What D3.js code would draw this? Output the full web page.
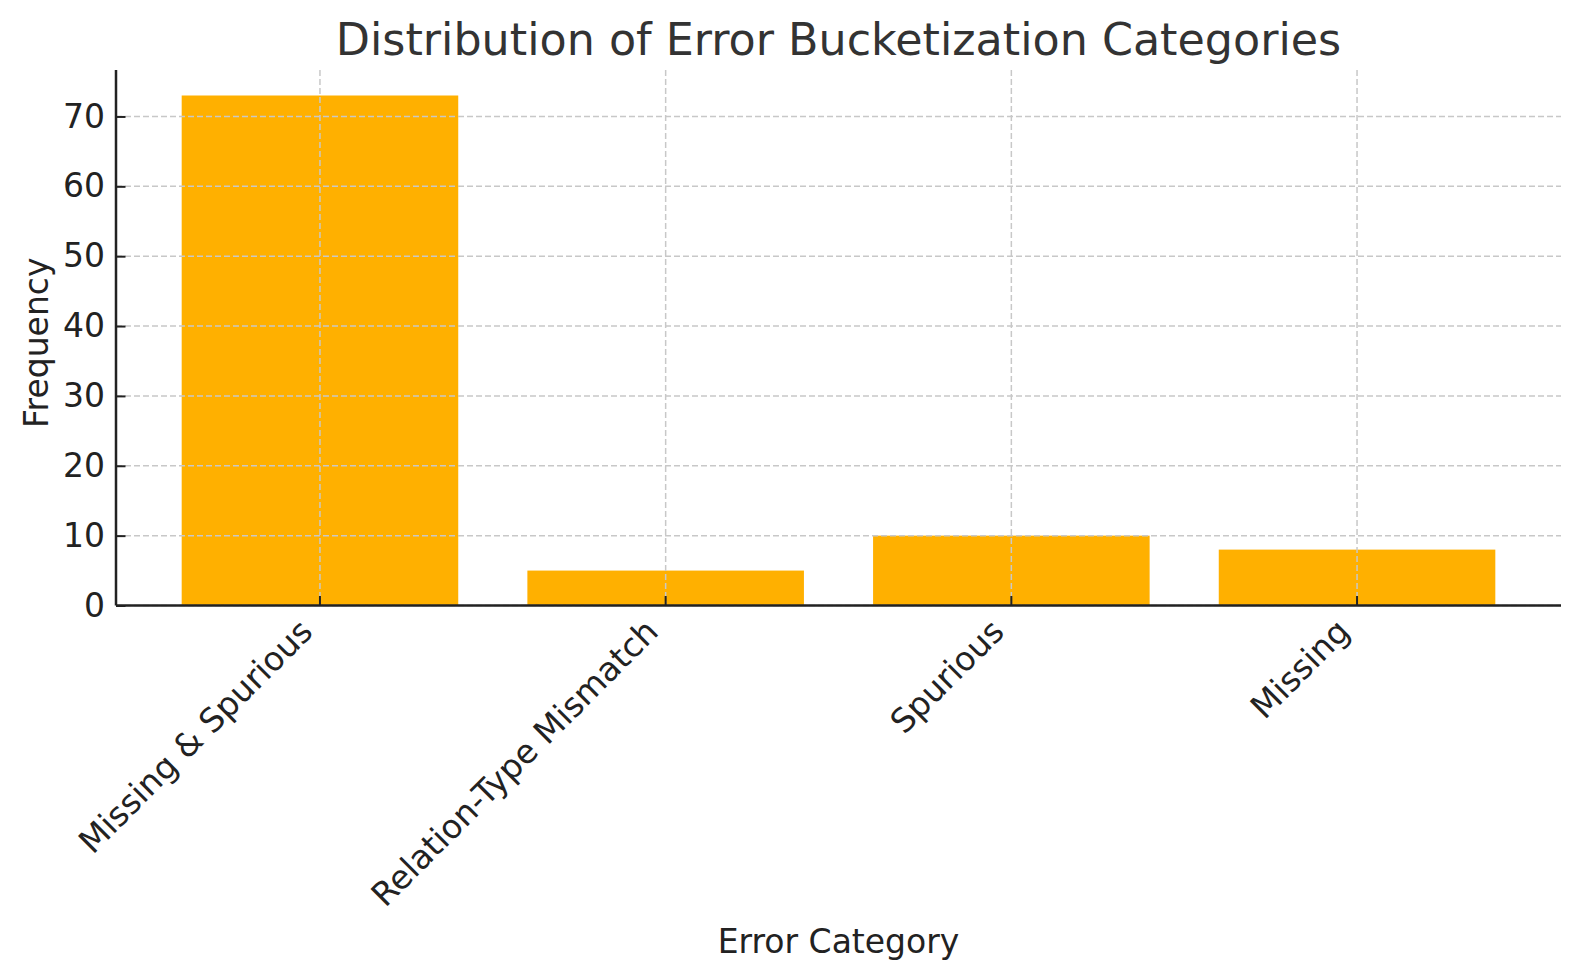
<!DOCTYPE html>
<html>
<head>
<meta charset="utf-8">
<script src="https://cdn.jsdelivr.net/npm/d3@7"></script>
<style>
  body { margin: 0; background: #fff; }
  svg { font-family: "DejaVu Sans", sans-serif; }
</style>
</head>
<body>
<div id="chart"></div>
<script>
    // error bucket categories
    let categories = ['Missing & Spurious', 'Relation-Type Mismatch', 'Spurious', 'Missing'];
    let frequency = [73, 5, 10, 8];
    let yTicks = [0, 10, 20, 30, 40, 50, 60, 70];

    let svgAttr = {width: 1580, height: 980};
    let marge = {top: 70, bottom: 374.5, left: 116, right: 19};
    let innerW = svgAttr.width - marge.left - marge.right;
    let innerH = svgAttr.height - marge.top - marge.bottom;

    let svg = d3.select('#chart').append('svg').attr('width', svgAttr.width).attr('height', svgAttr.height);
    let g = svg.append('g').attr('transform', 'translate(' + marge.left + ',' + marge.top + ')');

    // x: band scale, bar = 0.8 of step
    let xScale = d3.scaleBand().domain(categories).range([0, innerW]).paddingInner(0.2).paddingOuter(0.19);
    // y: max * 1.05 like matplotlib margins
    let yScale = d3.scaleLinear().domain([0, d3.max(frequency) * 1.05]).range([innerH, 0]);

    // bars
    g.selectAll('.bar').data(frequency).enter().append('rect')
        .attr('class', 'bar')
        .attr('x', (d, i) => xScale(categories[i]))
        .attr('y', d => yScale(d))
        .attr('width', xScale.bandwidth())
        .attr('height', d => innerH - yScale(d))
        .attr('fill', '#FFB000');

    // grid on top of bars
    let grid = g.append('g').attr('stroke', '#c8c8c8').attr('stroke-width', 1.5).attr('stroke-dasharray', '6,3');
    grid.selectAll('.hgrid').data(yTicks).enter().append('line')
        .attr('x1', 0).attr('x2', innerW)
        .attr('y1', d => yScale(d)).attr('y2', d => yScale(d));
    grid.selectAll('.vgrid').data(categories).enter().append('line')
        .attr('x1', d => xScale(d) + xScale.bandwidth() / 2).attr('x2', d => xScale(d) + xScale.bandwidth() / 2)
        .attr('y1', 0).attr('y2', innerH);

    // y axis, ticks pointing inward
    let yAxis = d3.axisLeft(yScale).tickValues(yTicks).tickSizeInner(-9.5).tickSizeOuter(0).tickPadding(11);
    let yG = g.append('g').call(yAxis);
    yG.select('.domain').attr('stroke', '#222').attr('stroke-width', 2.5).attr('d', 'M0,0V' + innerH);
    yG.selectAll('.tick line').attr('stroke', '#222').attr('stroke-width', 2);
    yG.selectAll('.tick text').attr('font-size', '33px').attr('fill', '#222')
        .attr('font-family', '"DejaVu Sans", sans-serif');

    // x axis
    let xAxis = d3.axisBottom(xScale).tickSizeInner(-9.5).tickSizeOuter(0).tickPadding(0);
    let xG = g.append('g').attr('transform', 'translate(0,' + innerH + ')').call(xAxis);
    xG.select('.domain').attr('stroke', '#222').attr('stroke-width', 2.5).attr('d', 'M0,0H' + innerW);
    xG.selectAll('.tick line').attr('stroke', '#222').attr('stroke-width', 2);
    xG.selectAll('.tick text').attr('font-size', '33px').attr('fill', '#222')
        .attr('font-family', '"DejaVu Sans", sans-serif')
        .attr('text-anchor', 'end').attr('dy', null).attr('y', 0)
        .attr('transform', 'translate(-5.5,28) rotate(-45)');

    // title and axis labels
    svg.append('text').attr('x', marge.left + innerW / 2).attr('y', 55)
        .attr('text-anchor', 'middle').attr('font-size', '44.4px').attr('fill', '#333')
        .text('Distribution of Error Bucketization Categories');
    svg.append('text').attr('x', marge.left + innerW / 2).attr('y', 953)
        .attr('text-anchor', 'middle').attr('font-size', '33px').attr('fill', '#222')
        .text('Error Category');
    svg.append('text').attr('transform', 'translate(48,' + (marge.top + innerH / 2 + 5) + ') rotate(-90)')
        .attr('text-anchor', 'middle').attr('font-size', '33px').attr('fill', '#222')
        .text('Frequency');
</script>
</body>
</html>
